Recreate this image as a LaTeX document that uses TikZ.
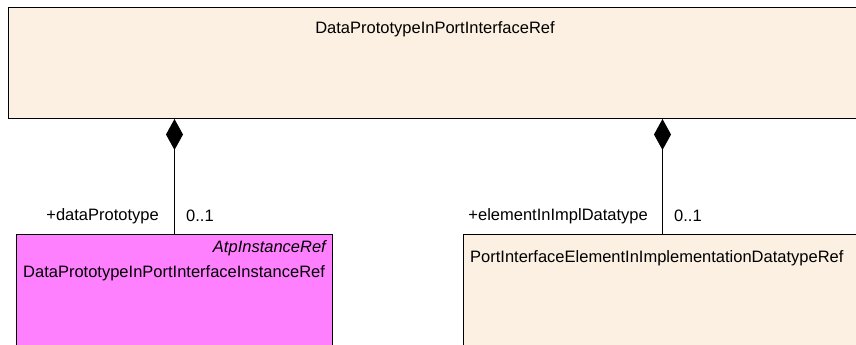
\documentclass[tikz,border=0pt]{standalone}
\usepackage{fontspec}
\setmainfont{Liberation Sans}
\usetikzlibrary{arrows.meta}
\definecolor{cream}{RGB}{251,240,225}
\definecolor{pinkbox}{RGB}{255,128,255}
\begin{document}
\begin{tikzpicture}[x=1pt,y=-1pt,
  umlbox/.style={draw=black,line width=1pt,rectangle,inner sep=0pt,anchor=north west},
  lbl/.style={font=\fontsize{16.5}{19}\selectfont,inner sep=0pt},
  comp/.style={line width=1pt,-{Diamond[length=31pt,width=17pt]}}]
\useasboundingbox (0,0) rectangle (856,345);
\clip (0,0) rectangle (856,345);
\node[umlbox,fill=cream,minimum width=854pt,minimum height=111pt] (topbox) at (8,7) {};
\node[lbl] (toptitle) at (435,29) {DataPrototypeInPortInterfaceRef};
\node[umlbox,fill=pinkbox,minimum width=316pt,minimum height=140pt] (leftbox) at (16,234) {};
\node[lbl,anchor=east] (leftstereo) at (326,248) {\itshape AtpInstanceRef};
\node[lbl,anchor=west] (lefttitle) at (23,273) {DataPrototypeInPortInterfaceInstanceRef};
\node[umlbox,fill=cream,minimum width=398pt,minimum height=140pt] (rightbox) at (463,234) {};
\node[lbl,anchor=west] (righttitle) at (470,258) {PortInterfaceElementInImplementationDatatypeRef};
\draw[comp] (leftbox.north) -- (leftbox.north |- topbox.south);
\draw[comp] (rightbox.north) -- (rightbox.north |- topbox.south);
\node[lbl,anchor=east] (lrole) at (159,216) {+dataPrototype};
\node[lbl,anchor=west] (lmult) at (186,216) {0..1};
\node[lbl,anchor=east] (rrole) at (648,216) {+elementInImplDatatype};
\node[lbl,anchor=west] (rmult) at (674,216) {0..1};
\end{tikzpicture}
\end{document}
